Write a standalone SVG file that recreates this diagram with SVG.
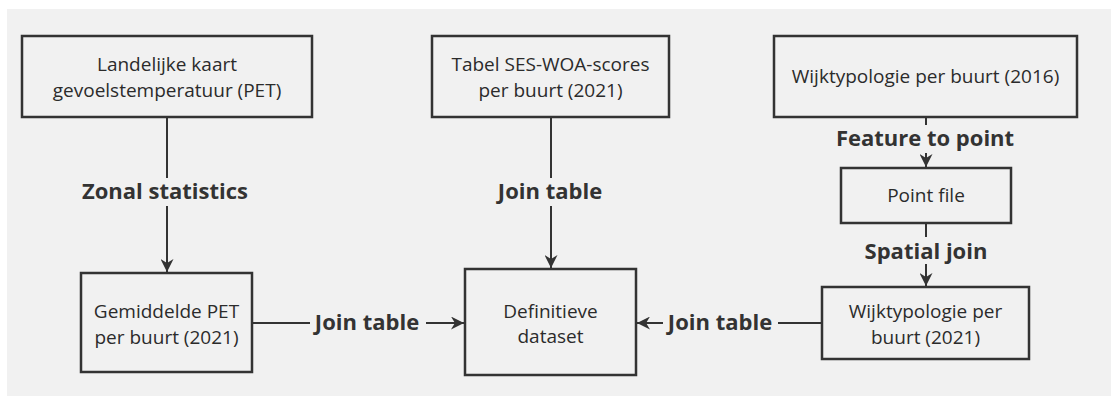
<svg xmlns="http://www.w3.org/2000/svg" width="1111" height="396" viewBox="0 0 1111 396">
<style>
.box{fill:none;stroke:#333;stroke-width:2.5}
.t{font-family:"Open Sans","Noto Sans",sans-serif;font-size:19px;fill:#2b2b2b;text-anchor:middle}
.l{font-family:"Open Sans","Noto Sans",sans-serif;font-size:22px;font-weight:bold;fill:#333;text-anchor:middle}
.c{fill:none;stroke:#333;stroke-width:2}
</style>
<defs>
<marker id="ah" viewBox="0 0 10 10" refX="10" refY="5" markerWidth="6.5" markerHeight="6.5" orient="auto" markerUnits="strokeWidth">
<path d="M0,0 L10,5 L0,10 L3,5 Z" fill="#333"/>
</marker>
</defs>
<rect x="0" y="0" width="1111" height="396" fill="#fff"/>
<rect x="7" y="9" width="1104" height="387" fill="#f1f1f1"/>

<g id="connectors">
<path class="c" d="M167,118 V178"/>
<path class="c" d="M167,206 V272" marker-end="url(#ah)"/>
<path class="c" d="M551,118 V178"/>
<path class="c" d="M551,206 V268" marker-end="url(#ah)"/>
<path class="c" d="M926,118 V125"/>
<path class="c" d="M926,153 V167" marker-end="url(#ah)"/>
<path class="c" d="M926,224 V237"/>
<path class="c" d="M926,264 V286" marker-end="url(#ah)"/>
<path class="c" d="M253,323 H310"/>
<path class="c" d="M426,323 H464" marker-end="url(#ah)"/>
<path class="c" d="M821,323 H778"/>
<path class="c" d="M663,323 H637" marker-end="url(#ah)"/>
<text class="l" x="165" y="199">Zonal statistics</text>
<text class="l" x="550" y="199">Join table</text>
<text class="l" x="925" y="146">Feature to point</text>
<text class="l" x="926" y="259">Spatial join</text>
<text class="l" x="367" y="330">Join table</text>
<text class="l" x="720" y="330">Join table</text>
</g>

<g id="n1">
<rect class="box" x="22" y="36" width="290" height="81"/>
<text class="t" x="167" y="71">Landelijke kaart</text>
<text class="t" x="167" y="97">gevoelstemperatuur (PET)</text>
</g>
<g id="n2">
<rect class="box" x="432" y="36" width="237" height="81"/>
<text class="t" x="550.5" y="71">Tabel SES-WOA-scores</text>
<text class="t" x="550.5" y="97">per buurt (2021)</text>
</g>
<g id="n3">
<rect class="box" x="774" y="36" width="303" height="81"/>
<text class="t" x="925.5" y="83">Wijktypologie per buurt (2016)</text>
</g>
<g id="n4">
<rect class="box" x="841" y="168" width="170" height="55"/>
<text class="t" x="926" y="202">Point file</text>
</g>
<g id="n5">
<rect class="box" x="81" y="273" width="171" height="99"/>
<text class="t" x="166.5" y="318">Gemiddelde PET</text>
<text class="t" x="166.5" y="344">per buurt (2021)</text>
</g>
<g id="n6">
<rect class="box" x="465" y="269" width="171" height="106"/>
<text class="t" x="550.5" y="318">Definitieve</text>
<text class="t" x="550.5" y="343">dataset</text>
</g>
<g id="n7">
<rect class="box" x="822" y="287" width="207" height="72"/>
<text class="t" x="925.5" y="318">Wijktypologie per</text>
<text class="t" x="925.5" y="344">buurt (2021)</text>
</g>
</svg>
